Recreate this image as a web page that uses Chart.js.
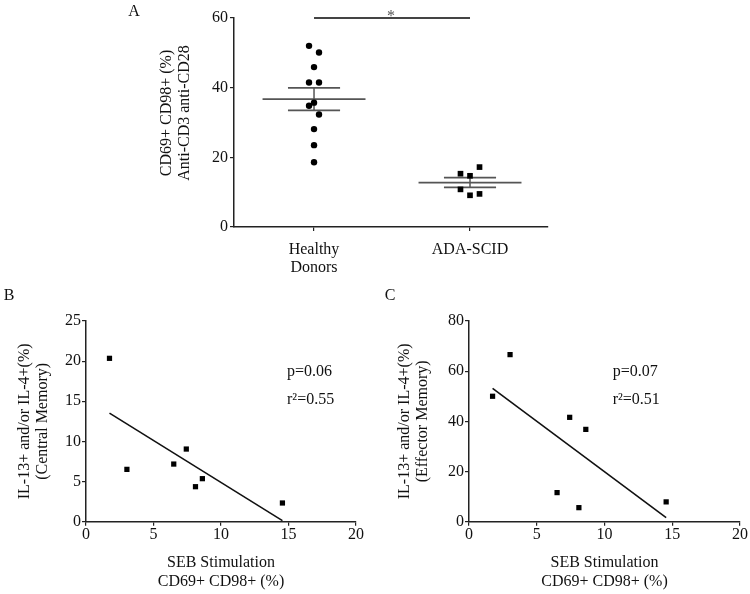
<!DOCTYPE html>
<html>
<head>
<meta charset="utf-8">
<script src="https://cdn.jsdelivr.net/npm/chart.js@4.4.1/dist/chart.umd.min.js"></script>
<style>
  html, body { margin: 0; padding: 0; background: #fff; }
  #wrap { position: relative; width: 750px; height: 594px; }
  canvas { position: absolute; }
</style>
</head>
<body>
<div id="wrap">
  <canvas id="chart-a" width="750" height="280" style="left:0;top:0"></canvas>
  <canvas id="chart-b" width="375" height="314" style="left:0;top:280px"></canvas>
  <canvas id="chart-c" width="375" height="314" style="left:375px;top:280px"></canvas>
</div>
<script>
// ===== DONNEES =====
const groupLabels = ['Healthy Donors', 'ADA-SCID']
const healthyValues = [52.0, 50.1, 45.9, 41.5, 41.5, 35.7, 34.8, 32.3, 28.1, 23.5, 18.6]
const healthyLanes = [-1, 1, 0, -1, 1, 0, -1, 1, 0, 0, 0]
const adaValues = [15.3, 14.7, 17.2, 10.8, 9.1, 9.5]
const adaLanes = [-1, 0, 1, -1, 0, 1]
const yTicksA = [0, 20, 40, 60]

const sebStim = [1.74, 3.03, 6.5, 7.43, 8.11, 8.62, 14.55]
const centralMemory = [20.35, 6.52, 7.18, 9.05, 4.36, 5.36, 2.33]
const effectorMemory = [50.0, 66.6, 11.6, 41.6, 5.6, 36.8, 7.9]
const xTicksBC = [0, 5, 10, 15, 20]
const yTicksB = [0, 5, 10, 15, 20, 25]
const yTicksC = [0, 20, 40, 60, 80]
const statsB = ['p=0.06', 'r²=0.55']
const statsC = ['p=0.07', 'r²=0.51']

// ===== STYLE =====
const FONT = '"Liberation Serif", "Times New Roman", serif'
Chart.defaults.font.family = FONT
Chart.defaults.font.size = 16
Chart.defaults.color = '#111'

// ===== OUTILS =====
function meanSem(values) {
  const n = values.length
  const mean = values.reduce((a, b) => a + b, 0) / n
  const sd = Math.sqrt(values.reduce((a, v) => a + (v - mean) ** 2, 0) / (n - 1))
  return { mean, sem: sd / Math.sqrt(n) }
}

function linearFit(xs, ys) {
  const n = xs.length
  const mx = xs.reduce((a, b) => a + b, 0) / n
  const my = ys.reduce((a, b) => a + b, 0) / n
  let sxy = 0
  let sxx = 0
  xs.forEach((x, i) => {
    sxy += (x - mx) * (ys[i] - my)
    sxx += (x - mx) ** 2
  })
  const slope = sxy / sxx
  return { slope, intercept: my - slope * mx }
}

function segment(x1, y1, x2, y2, color, width) {
  return {
    data: [{ x: x1, y: y1 }, { x: x2, y: y2 }],
    showLine: true,
    borderColor: color,
    borderWidth: width,
    pointRadius: 0,
    clip: false,
  }
}

function fixedTicks(arr) {
  return (scale) => {
    scale.ticks = arr.map((v) => ({ value: v }))
  }
}

function notes(items) {
  return {
    id: 'notes',
    afterDraw(chart) {
      const ctx = chart.ctx
      items.forEach((n) => {
        ctx.save()
        ctx.font = `${n.size || 16}px ${FONT}`
        ctx.fillStyle = n.color || '#111'
        ctx.textAlign = n.align || 'center'
        ctx.textBaseline = 'middle'
        ctx.translate(n.x, n.y)
        if (n.rotate) ctx.rotate(n.rotate)
        ctx.fillText(n.text, 0, 0)
        ctx.restore()
      })
    },
  }
}

function axisStyle() {
  return {
    grid: { drawOnChartArea: false, tickLength: 4, color: '#222', lineWidth: 1.2 },
    border: { color: '#222', width: 1.5 },
  }
}

// ===== PANNEAU A =====
function groupDatasets(values, lanes, pos, spread, style, radius) {
  const stats = meanSem(values)
  const lineColor = '#555'
  return [
    {
      data: values.map((v, i) => ({ x: pos + lanes[i] * spread, y: v })),
      pointStyle: style,
      pointRadius: radius,
      backgroundColor: '#000',
      borderColor: '#000',
      borderWidth: 0,
      clip: false,
    },
    segment(pos - 0.33, stats.mean, pos + 0.33, stats.mean, lineColor, 1.8),
    segment(pos - 0.167, stats.mean + stats.sem, pos + 0.167, stats.mean + stats.sem, lineColor, 1.8),
    segment(pos - 0.167, stats.mean - stats.sem, pos + 0.167, stats.mean - stats.sem, lineColor, 1.8),
    segment(pos, stats.mean - stats.sem, pos, stats.mean + stats.sem, lineColor, 1.5),
  ]
}

function initChartA() {
  const yMax = yTicksA[yTicksA.length - 1]
  const datasets = [
    ...groupDatasets(healthyValues, healthyLanes, 1, 0.032, 'circle', 3.2),
    ...groupDatasets(adaValues, adaLanes, 2, 0.061, 'rect', 4),
    segment(1, yMax, 2, yMax, '#444', 1.8),
  ]
  new Chart(document.getElementById('chart-a'), {
    type: 'scatter',
    data: { datasets },
    options: {
      responsive: false,
      animation: false,
      layout: { padding: { left: 0, right: 202, top: 18, bottom: 0 } },
      plugins: { legend: { display: false }, tooltip: { enabled: false } },
      scales: {
        x: {
          type: 'linear',
          min: 0.487,
          max: 2.5,
          afterBuildTicks: fixedTicks(groupLabels.map((_, i) => i + 1)),
          afterFit: (s) => { s.height = 53 },
          ticks: {
            maxRotation: 0,
            padding: 10,
            font: { size: 16, lineHeight: 1.125 },
            callback: (v) => groupLabels[v - 1].split(' '),
          },
          ...axisStyle(),
        },
        y: {
          min: yTicksA[0],
          max: yMax,
          afterBuildTicks: fixedTicks(yTicksA),
          afterFit: (s) => { s.width = 234 },
          ticks: { padding: 2, font: { size: 16, lineHeight: 1.125 } },
          ...axisStyle(),
        },
      },
    },
    plugins: [
      notes([
        { text: 'A', x: 134, y: 12 },
        { text: '*', x: 391, y: 17, color: '#555' },
        { text: 'CD69+ CD98+ (%)', x: 167, y: 113, rotate: -Math.PI / 2 },
        { text: 'Anti-CD3 anti-CD28', x: 185, y: 113, rotate: -Math.PI / 2 },
      ]),
    ],
  })
}

// ===== PANNEAUX B ET C =====
function initCorrelation(id, ys, yTicks, yTitle, letter, stats, axisWidth, padRight, titlePad, statsX) {
  const fit = linearFit(sebStim, ys)
  const xMin = Math.min(...sebStim)
  const xMax = Math.max(...sebStim)
  new Chart(document.getElementById(id), {
    type: 'scatter',
    data: {
      datasets: [
        {
          data: sebStim.map((x, i) => ({ x, y: ys[i] })),
          pointStyle: 'rect',
          pointRadius: 3.7,
          backgroundColor: '#000',
          borderWidth: 0,
          clip: false,
        },
        segment(xMin, fit.intercept + fit.slope * xMin, xMax, fit.intercept + fit.slope * xMax, '#111', 1.6),
      ],
    },
    options: {
      responsive: false,
      animation: false,
      layout: { padding: { left: 0, right: padRight, top: 41, bottom: 0 } },
      plugins: { legend: { display: false }, tooltip: { enabled: false } },
      scales: {
        x: {
          type: 'linear',
          min: xTicksBC[0],
          max: xTicksBC[xTicksBC.length - 1],
          afterBuildTicks: fixedTicks(xTicksBC),
          afterFit: (s) => { s.height = 72.3 },
          ticks: { maxRotation: 0, padding: 0, font: { size: 16, lineHeight: 1.125 } },
          title: {
            display: true,
            text: ['SEB Stimulation', 'CD69+ CD98+ (%)'],
            font: { size: 16, lineHeight: 1.2 },
            padding: { top: 0, bottom: 2.4 },
          },
          ...axisStyle(),
        },
        y: {
          min: yTicks[0],
          max: yTicks[yTicks.length - 1],
          afterBuildTicks: fixedTicks(yTicks),
          afterFit: (s) => { s.width = axisWidth },
          ticks: { padding: 1, font: { size: 16, lineHeight: 1.125 } },
          title: {
            display: true,
            text: yTitle,
            font: { size: 16, lineHeight: 1.125 },
            padding: { top: titlePad, bottom: 0 },
          },
          ...axisStyle(),
        },
      },
    },
    plugins: [
      notes([
        { text: letter, x: letter === 'B' ? 9 : 15, y: 16 },
        { text: stats[0], x: statsX, y: 91.7, align: 'left' },
        { text: stats[1], x: statsX, y: 120, align: 'left' },
      ]),
    ],
  })
}

// ===== INITIALISATION =====
initChartA()
initCorrelation('chart-b', centralMemory, yTicksB,
  ['IL-13+ and/or IL-4+(%)', '(Central Memory)'], 'B', statsB, 86, 19, 16, 287)
initCorrelation('chart-c', effectorMemory, yTicksC,
  ['IL-13+ and/or IL-4+(%)', '(Effector Memory)'], 'C', statsC, 94, 10, 21, 237.7)
</script>
</body>
</html>
